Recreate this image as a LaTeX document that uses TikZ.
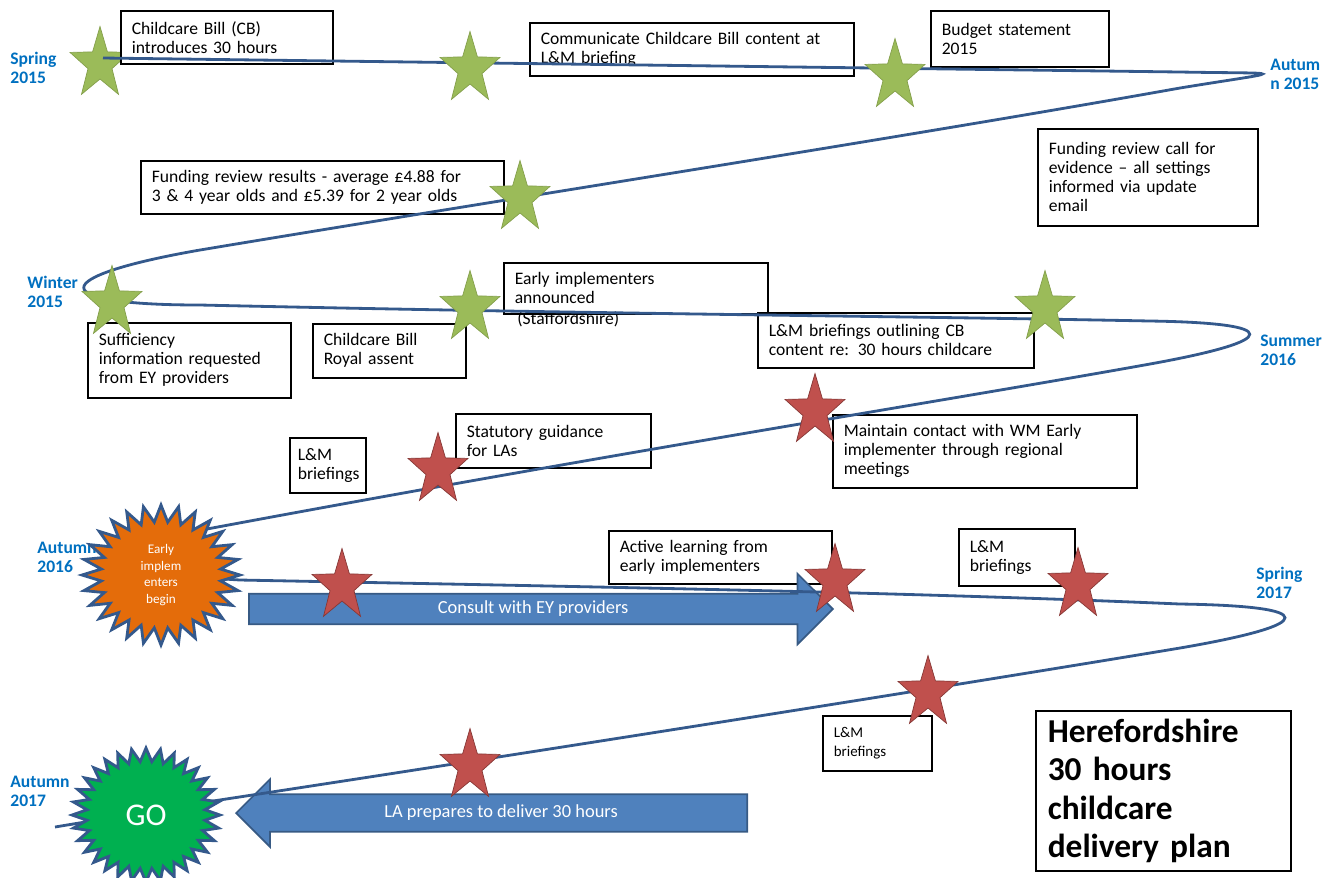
\documentclass[tikz,border=0pt]{standalone}
\usepackage{fontspec}
\setmainfont{Carlito}
\usetikzlibrary{shapes, arrows.meta}
\definecolor{seasonblue}{RGB}{0, 112, 192}
\definecolor{spiralblue}{RGB}{52, 89, 140}
\definecolor{stargreen}{RGB}{155, 187, 89}
\definecolor{starred}{RGB}{192, 80, 77}
\definecolor{arrowblue}{RGB}{79, 129, 189}
\definecolor{burstorange}{RGB}{228, 108, 10}
\definecolor{gogreen}{RGB}{0, 176, 80}

\begin{document}
\begin{tikzpicture}[x=0.02cm, y=-0.02cm, font=\fontsize{10}{10.8}\selectfont,
      b/.style={draw, fill=white, line width=0.9pt, align=left, anchor=north west, inner xsep=0.22cm, inner ysep=0pt},
      season/.style={anchor=west, align=left, inner sep=0pt, text=seasonblue, font=\fontsize{10}{10.8}\selectfont\bfseries},
      gstar/.style={star, star points=5, star point ratio=2.5, minimum size=1.5cm, xscale=0.84, transform shape, inner sep=0pt, fill=stargreen, draw=stargreen!85!black},
      rstar/.style={gstar, fill=starred, draw=starred!70!black},
      bigarrow/.style={single arrow, draw=arrowblue!70!black, fill=arrowblue, line width=1pt, anchor=tail, text=white, text height=7pt, text depth=2pt, inner xsep=0pt, font=\fontsize{10.5}{12}\selectfont},
      spiral/.style={draw=spiralblue, line width=1.6pt},
      burst/.style={draw=spiralblue, line width=1.6pt}]
    \useasboundingbox (0,0) rectangle (1338,877);
    \node[gstar] (g1) at (100,64) {};
    \node[b, text width=3.80cm, minimum height=1.06cm] (cb) at (120,10) {Childcare Bill (CB)\\introduces 30 hours};
    \node[b, text width=6.04cm, minimum height=1.06cm] (communicate) at (529,22) {Communicate Childcare Bill content at\\L\&M briefing};
    \node[b, text width=3.12cm, minimum height=1.12cm] (budget) at (930,10) {Budget statement\\2015};
    \node[b, text width=3.96cm, minimum height=1.94cm] (evidence) at (1037,128) {Funding review call for\\evidence -- all settings\\informed via update\\email};
    \node[b, text width=6.82cm, minimum height=1.06cm] (results) at (140,160) {Funding review results - average £4.88 for\\3 \& 4 year olds and £5.39 for 2 year olds};
    \node[b, text width=4.84cm, minimum height=1.02cm] (announced) at (503,262) {Early implementers\\announced};
    \node[anchor=west, inner sep=0pt] (staffs) at (517,319) {(Staffordshire)};
    \node[b, text width=3.62cm, minimum height=1.50cm] (sufficiency) at (87,322) {Sufficiency\\information requested\\from EY providers};
    \node[b, text width=2.62cm, minimum height=1.08cm] (assent) at (312,323) {Childcare Bill\\Royal assent};
    \node[b, text width=5.08cm, minimum height=1.10cm] (outlining) at (757,312) {L\&M briefings outlining CB\\content re: 30 hours childcare};
    \node[b, text width=3.46cm, minimum height=1.08cm] (statutory) at (455,413) {Statutory guidance\\for LAs};
    \node[b, text width=1.20cm, minimum height=1.10cm, inner xsep=0.16cm] (lmone) at (289,437) {L\&M\\briefings};
    \node[b, text width=5.64cm, minimum height=1.46cm] (maintain) at (832,414) {Maintain contact with WM Early\\implementer through regional\\meetings};
    \node[b, text width=4.02cm, minimum height=1.06cm] (active) at (608,530) {Active learning from\\early implementers};
    \node[b, text width=1.88cm, minimum height=1.14cm] (lmtwo) at (958,528) {L\&M\\briefings};
    \node[b, text width=1.74cm, minimum height=1.10cm, font=\fontsize{8.5}{10.5}\selectfont] (lmthree) at (822,715) {L\&M\\briefings};
    \node[b, text width=4.62cm, minimum height=3.20cm, inner xsep=0.24cm, font=\fontsize{19}{21.8}\selectfont\bfseries] (title) at (1035,710) {Herefordshire\\30 hours\\childcare\\delivery plan};
    \node[season] (spring15) at (10,68) {Spring\\2015};
    \node[season] (autumn15) at (1270,74) {Autum\\n 2015};
    \node[season] (winter15) at (27,292) {Winter\\2015};
    \node[season] (summer16) at (1260,350) {Summer\\2016};
    \node[season] (autumn16) at (37,557) {Autumn\\2016};
    \node[season] (spring17) at (1256,583) {Spring\\2017};
    \node[season] (autumn17) at (10,791) {Autumn\\2017};
    \node[bigarrow, minimum height=11.68cm, minimum width=1.38cm, single arrow head extend=0.4cm, inner ysep=3.7pt] (consult) at (248,609) {Consult with EY providers};
    \node[bigarrow, shape border rotate=180, minimum height=10.22cm, minimum width=1.32cm, single arrow head extend=0.3cm, inner ysep=5.7pt] (prepare) at (748,813) {LA prepares to deliver 30 hours};
    \coordinate (start) at (103,58);
    \coordinate (earlyc) at (161,575);
    \coordinate (goc) at (146,815);
    \coordinate (finish) at (55,827);
    \draw[spiral] (start) -- (1180,72) .. controls (1290,74) and (1290,70) .. (1180,88)
      .. controls (900,138) and (500,200) .. (200,250) .. controls (45,277) and (45,305) .. (200,305)
      .. controls (600,314) and (900,316) .. (1150,321) .. controls (1283,323) and (1283,340) .. (1150,364)
      .. controls (950,400) and (600,455) .. (175,535) -- (earlyc) -- (240,580)
      .. controls (600,587) and (900,592) .. (1180,604) .. controls (1320,606) and (1320,624) .. (1180,648)
      .. controls (1000,678) and (600,742) .. (200,803) -- (finish);
    \node[gstar] (g2) at (470,69) {};
    \node[gstar] (g3) at (895,76) {};
    \node[gstar] (g4) at (520,198) {};
    \node[gstar] (g5) at (112,303) {};
    \node[gstar] (g6) at (470,308) {};
    \node[gstar] (g7) at (1045,308) {};
    \node[rstar] (r1) at (438,470) {};
    \node[rstar] (r2) at (815,411) {};
    \node[rstar] (r3) at (342,586) {};
    \node[rstar] (r4) at (835,581) {};
    \node[rstar] (r5) at (1078,585) {};
    \node[rstar] (r6) at (928,693) {};
    \node[rstar] (r7) at (470,766) {};
    \draw[burst, fill=burstorange, shift={(earlyc)}] (79,0)
      \foreach \i [evaluate=\i as \r using {isodd(\i) ? 0.76 : 1}] in {1,...,55} {-- ({79*\r*cos(\i*6.42857)}, {70*\r*sin(\i*6.42857)})} -- cycle;
    \node[text=white, align=center, font=\fontsize{7.5}{9.5}\selectfont] (early) at (earlyc) {Early\\implem\\enters\\begin};
    \draw[burst, fill=gogreen, shift={(goc)}] (74,0)
      \foreach \i [evaluate=\i as \r using {isodd(\i) ? 0.8 : 1}] in {1,...,63} {-- ({74*\r*cos(\i*5.625)}, {67*\r*sin(\i*5.625)})} -- cycle;
    \node[text=white, font=\fontsize{18}{18}\selectfont] (go) at (goc) {GO};
  \end{tikzpicture}
\end{document}
